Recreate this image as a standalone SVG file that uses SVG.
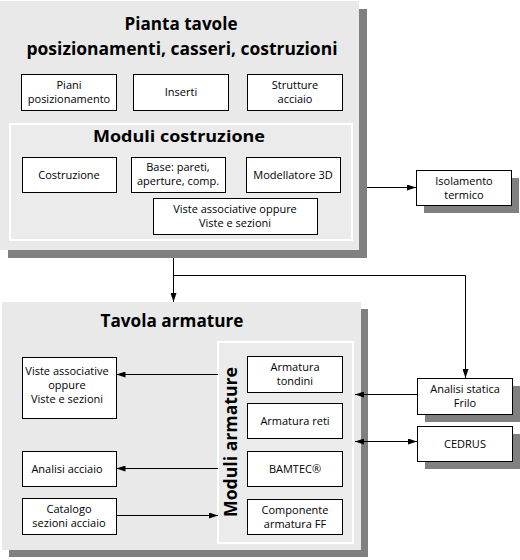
<svg xmlns="http://www.w3.org/2000/svg" width="520" height="560" viewBox="0 0 520 560">
<style>
.bg{fill:#ffffff}
.panel{fill:#e9e9e9}
.shadow{fill:#808080}
.inner{fill:#ebebeb;stroke:#ffffff;stroke-width:2}
.box{fill:#ffffff;stroke:#000000;stroke-width:1}
.t{font-family:"Open Sans","Noto Sans",sans-serif;font-size:11px;fill:#000;text-anchor:middle}
.h{font-family:"Open Sans","Liberation Sans",sans-serif;font-weight:bold;fill:#000;text-anchor:middle}
.c{fill:none;stroke:#000;stroke-width:1}
</style>
<defs>
<marker id="ah" markerUnits="userSpaceOnUse" markerWidth="9" markerHeight="6" viewBox="0 0 9 6" refX="9" refY="3" orient="auto-start-reverse">
<path d="M0,0 L9,3 L0,6 z" fill="#000"/>
</marker>
</defs>
<rect class="bg" x="0" y="0" width="520" height="560"/>

<g id="pianta">
<rect class="shadow" x="8" y="9" width="359" height="249"/>
<rect class="panel" x="0" y="1" width="359" height="249"/>
<text class="h" x="181" y="30" font-size="17" textLength="113" lengthAdjust="spacingAndGlyphs">Pianta tavole</text>
<text class="h" x="182" y="55" font-size="17" textLength="311" lengthAdjust="spacingAndGlyphs">posizionamenti, casseri, costruzioni</text>
</g>
<g id="piani"><rect class="box" x="21.5" y="74.5" width="95" height="36"/><text class="t" x="69" y="89">Piani</text><text class="t" x="69" y="103">posizionamento</text></g>
<g id="inserti"><rect class="box" x="133.5" y="74.5" width="95" height="36"/><text class="t" x="181" y="96">Inserti</text></g>
<g id="strutture"><rect class="box" x="247.5" y="74.5" width="95" height="36"/><text class="t" x="295" y="89">Strutture</text><text class="t" x="295" y="103">acciaio</text></g>

<g id="moduli-costruzione">
<rect class="inner" x="10" y="124" width="342" height="116"/>
<text class="h" x="179" y="142" font-size="16" textLength="172" lengthAdjust="spacingAndGlyphs">Moduli costruzione</text>
</g>
<g id="costruzione"><rect class="box" x="22.5" y="157.5" width="94" height="35"/><text class="t" x="69" y="179">Costruzione</text></g>
<g id="base"><rect class="box" x="131.5" y="157.5" width="94" height="35"/><text class="t" x="178" y="171">Base: pareti,</text><text class="t" x="178" y="185">aperture, comp.</text></g>
<g id="modellatore"><rect class="box" x="246.5" y="157.5" width="94" height="35"/><text class="t" x="293" y="179">Modellatore 3D</text></g>
<g id="viste-top"><rect class="box" x="153.5" y="198.5" width="164" height="36"/><text class="t" x="235" y="213">Viste associative oppure</text><text class="t" x="235" y="227">Viste e sezioni</text></g>

<g id="isolamento"><rect class="shadow" x="424" y="178" width="95" height="35"/><rect class="box" x="416.5" y="170.5" width="95" height="35"/><text class="t" x="464" y="185">Isolamento</text><text class="t" x="464" y="199">termico</text></g>

<g id="tavola">
<rect class="shadow" x="9" y="309" width="359" height="248"/>
<rect class="panel" x="2" y="302" width="359" height="248"/>
<text class="h" x="172" y="327" font-size="17" textLength="143" lengthAdjust="spacingAndGlyphs">Tavola armature</text>
</g>
<g id="moduli-armature">
<rect class="inner" x="218" y="342" width="135" height="201"/>
<text class="h" font-size="17" transform="translate(237,442) rotate(-90)" textLength="150" lengthAdjust="spacingAndGlyphs">Moduli armature</text>
</g>
<g id="tondini"><rect class="box" x="247.5" y="356.5" width="95" height="36"/><text class="t" x="295" y="371">Armatura</text><text class="t" x="295" y="385">tondini</text></g>
<g id="reti"><rect class="box" x="247.5" y="403.5" width="95" height="35"/><text class="t" x="295" y="425">Armatura reti</text></g>
<g id="bamtec"><rect class="box" x="247.5" y="451.5" width="95" height="35"/><text class="t" x="295" y="473">BAMTEC®</text></g>
<g id="componente"><rect class="box" x="247.5" y="499.5" width="95" height="35"/><text class="t" x="295" y="514">Componente</text><text class="t" x="295" y="528">armatura FF</text></g>

<g id="viste-bottom"><rect class="box" x="22.5" y="357.5" width="94" height="61"/><text class="t" x="67" y="375">Viste associative</text><text class="t" x="67" y="389">oppure</text><text class="t" x="67" y="403">Viste e sezioni</text></g>
<g id="analisi-acciaio"><rect class="box" x="22.5" y="451.5" width="94" height="35"/><text class="t" x="67" y="473">Analisi acciaio</text></g>
<g id="catalogo"><rect class="box" x="22.5" y="498.5" width="94" height="36"/><text class="t" x="69" y="513">Catalogo</text><text class="t" x="69" y="527">sezioni acciaio</text></g>

<g id="analisi-statica"><rect class="shadow" x="425" y="386" width="95" height="36"/><rect class="box" x="417.5" y="378.5" width="95" height="36"/><text class="t" x="465" y="393">Analisi statica</text><text class="t" x="465" y="407">Frilo</text></g>
<g id="cedrus"><rect class="shadow" x="425" y="434" width="95" height="35"/><rect class="box" x="417.5" y="426.5" width="95" height="35"/><text class="t" x="465" y="448">CEDRUS</text></g>

<g id="connectors">
<path class="c" d="M367,187.5 H416" marker-end="url(#ah)"/>
<path class="c" d="M173.5,258 V302" marker-end="url(#ah)"/>
<path class="c" d="M173.5,275.5 H465.5 V378" marker-end="url(#ah)"/>
<path class="c" d="M417,394.5 H355" marker-end="url(#ah)"/>
<path class="c" d="M355,441.5 H417" marker-start="url(#ah)" marker-end="url(#ah)"/>
<path class="c" d="M218,374.5 H116.5" marker-end="url(#ah)"/>
<path class="c" d="M218,468.5 H116.5" marker-end="url(#ah)"/>
<path class="c" d="M116.5,515.5 H218" marker-end="url(#ah)"/>
</g>
</svg>
